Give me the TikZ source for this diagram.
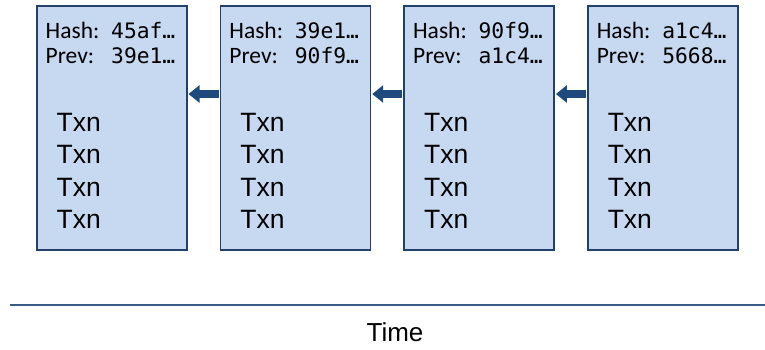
\documentclass[tikz,border=0pt]{standalone}
\usepackage{fontspec}
\setmainfont{Liberation Sans}
\newfontfamily\calib{Carlito}
\newfontfamily\monof{DejaVu Sans Mono}
\usetikzlibrary{arrows.meta}
\definecolor{boxfill}{HTML}{C6D9F1}
\definecolor{boxline}{HTML}{22406A}
\definecolor{arrowblue}{HTML}{1F4A7D}
\definecolor{timeline}{HTML}{385D8A}
\tikzset{
  block/.style={draw=boxline, line width=1.5bp, fill=boxfill, minimum width=150bp, minimum height=244bp, inner sep=0pt, anchor=north west},
  hashtxt/.style={anchor=base west, inner sep=0pt, font=\calib\fontsize{23.5bp}{26bp}\selectfont},
  txn/.style={anchor=base west, inner sep=0pt, font=\fontsize{26.5bp}{32bp}\selectfont},
  linkarrow/.style={draw=arrowblue, line width=8bp, -{Triangle[width=17bp,length=11bp]}, shorten >=1bp, shorten <=1bp},
}
\newcommand{\myhx}[1]{{\monof\fontsize{21.3bp}{24bp}\selectfont #1…}}
\newcommand{\myhashline}[2]{\makebox[65.5bp][l]{#1}\myhx{#2}}
\begin{document}
\begin{tikzpicture}[x=1bp,y=-1bp]
\useasboundingbox (0,0) rectangle (765,349);
\foreach \i/\h/\p in {1/45af/39e1, 2/39e1/90f9, 3/90f9/a1c4, 4/a1c4/5668}{
  \pgfmathsetmacro{\xl}{36+183.7*(\i-1)}
  \node[block] (b\i) at (\xl,5) {};
  \node[hashtxt] (h\i) at (\xl+9.5,38) {\myhashline{Hash:}{\h}};
  \node[hashtxt] (p\i) at (\xl+9.5,63.5) {\myhashline{Prev:}{\p}};
  \foreach \k in {0,1,2,3}{
    \node[txn] (t\i\k) at (\xl+20.5,131+32.5*\k) {Txn};
  }
}
\foreach \a/\b in {2/1,3/2,4/3}{
  \draw[linkarrow] (b\a.west |- 0,94) -- (b\b.east |- 0,94);
}
\coordinate (ls) at (10,304.5);
\coordinate (le) at (765,304.5);
\draw[timeline, line width=2bp] (ls) -- (le);
\node[anchor=base, inner sep=0pt, font=\fontsize{26bp}{30bp}\selectfont] (time) at (395,341) {Time};
\end{tikzpicture}
\end{document}
